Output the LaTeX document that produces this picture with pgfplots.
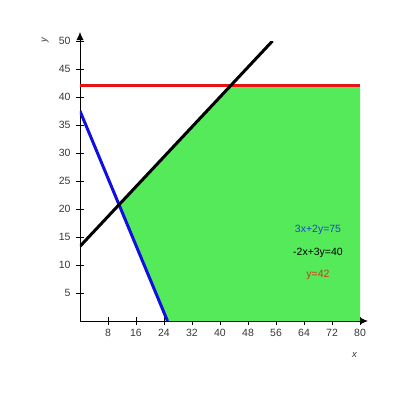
\documentclass[border=0pt]{standalone}
\usepackage{pgfplots}
\pgfplotsset{compat=1.18}
\usepackage{fontspec}
\setmainfont{Liberation Sans}
\usetikzlibrary{arrows.meta}
\definecolor{regiongreen}{RGB}{85,234,90}
\definecolor{lineblue}{RGB}{15,15,225}
\definecolor{linered}{RGB}{232,20,20}
\definecolor{textblue}{RGB}{30,70,200}
\definecolor{textred}{RGB}{200,60,20}
\definecolor{ticklab}{RGB}{55,55,55}
\begin{document}
\begin{tikzpicture}
\path[use as bounding box] (-80pt,-79pt) rectangle (320pt,321pt);
\begin{axis}[
  at={(0,0)}, anchor=origin,
  x=3.5pt, y=5.6pt,
  xmin=0, xmax=80, ymin=0, ymax=50,
  axis lines=left,
  clip=true,
  x axis line style={-{Latex[length=8pt,width=7pt]}, shorten >=-8pt, line width=0.8pt},
  y axis line style={-{Latex[length=8pt,width=7pt]}, shorten >=-9pt, line width=0.8pt},
  xtick={8,16,24,32,40,48,56,64,72,80},
  ytick={5,10,15,20,25,30,35,40,45,50},
  tick align=center,
  major tick length=8pt,
  tick style={line width=0.8pt, black},
  /pgf/number format/assume math mode=true,
  tick label style={font=\fontsize{10.5}{12}\selectfont, text=ticklab},
  xticklabel style={yshift=-1pt},
  yticklabel style={xshift=-2pt},
  xlabel={\textit{x}}, ylabel={\textit{y}},
  label style={font=\fontsize{9.5}{10}\selectfont, text=ticklab},
  xlabel style={at={(axis cs:78.5,0)}, anchor=center, yshift=-34pt},
  ylabel style={at={(axis cs:0,50)}, anchor=center, rotate=0, xshift=1pt, yshift=35pt},
]
\addplot[fill=regiongreen, draw=none] coordinates {(11.154,20.769) (43,42) (80,42) (80,0) (25,0)} -- cycle;
\addplot[linered, line width=3pt] coordinates {(0,42) (80,42)};
\addplot[lineblue, line width=3pt] coordinates {(0,37.5) (25,0)};
\addplot[black, line width=3pt] coordinates {(0,13.333) (55,50)};
\node[text=textblue, font=\fontsize{10.5}{12}\selectfont] at (axis cs:68,16.25) {3x+2y=75};
\node[text=black, font=\fontsize{10.5}{12}\selectfont] at (axis cs:68,12.1) {-2x+3y=40};
\node[text=textred, font=\fontsize{10.5}{12}\selectfont] at (axis cs:68,8.2) {y=42};
\end{axis}
\end{tikzpicture}
\end{document}
